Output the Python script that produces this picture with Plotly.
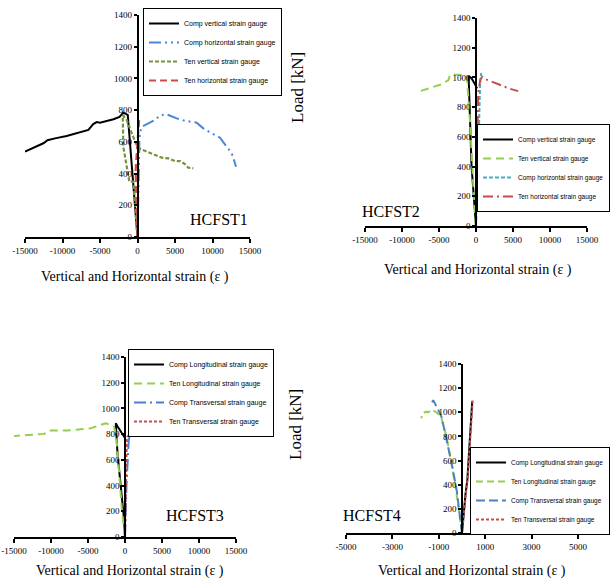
import plotly.graph_objects as go

# ---------------- DATA ----------------
x_title = "Vertical and Horizontal strain (ε )"
y_title = "Load [kN]"
panel_names = ["HCFST1", "HCFST2", "HCFST3", "HCFST4"]

load_ticks = [0, 200, 400, 600, 800, 1000, 1200, 1400]
strain_ticks_wide = [-15000, -10000, -5000, 0, 5000, 10000, 15000]
strain_ticks_narrow = [-5000, -3000, -1000, 1000, 3000, 5000]

# HCFST1
p1_names = ["Comp vertical strain gauge", "Comp horizontal strain gauge",
            "Ten vertical strain gauge", "Ten horizontal strain gauge"]
p1_cv_x = [0, -250, -600, -1300, -1900, -2400, -3200, -4100, -5000, -5450, -5900, -6550, -7450, -7900, -8700, -9450, -11000, -12000, -12550, -13800, -15000]
p1_cv_y = [0, 150, 380, 770, 784, 757, 743, 731, 720, 725, 712, 675, 662, 660, 648, 637, 622, 610, 591, 565, 538]
p1_ch_x = [0, 100, 250, 330, 560, 1440, 2330, 3000, 3890, 5230, 6330, 7890, 8770, 9670, 11000, 11890, 12560, 12870, 13130]
p1_ch_y = [0, 300, 600, 660, 695, 717, 738, 767, 773, 748, 733, 721, 685, 660, 626, 569, 528, 485, 443]
p1_tv_x = [0, -560, -1090, -1890, -1970, -1440, -770, -110, 330, 1230, 2110, 3230, 4110, 5000, 5670, 6330, 6770, 7440]
p1_tv_y = [0, 349, 349, 569, 769, 738, 654, 580, 556, 538, 523, 500, 496, 479, 479, 460, 437, 433]
p1_th_x = [0, -100, -250, -50, 150, 250]
p1_th_y = [0, 200, 420, 560, 660, 760]

# HCFST2
p2_names = ["Comp vertical strain gauge", "Ten vertical strain gauge",
            "Comp horizontal strain gauge", "Ten horizontal strain gauge"]
p2_cv_x = [0, -300, -600, -1000, -600, -150, 150]
p2_cv_y = [0, 180, 400, 1010, 995, 955, 925]
p2_tv_x = [0, -400, -800, -1260, -2500, -3500, -3740, -4870, -6220, -7800]
p2_tv_y = [0, 300, 700, 1015, 1018, 1018, 980, 951, 929, 904]
p2_ch_x = [0, 100, 300, 450, 550, 700, 900]
p2_ch_y = [0, 250, 450, 700, 950, 1030, 1000]
p2_th_x = [0, 150, 300, 600, 800, 1440, 2500, 3500, 4500, 5700]
p2_th_y = [0, 400, 900, 990, 1000, 985, 965, 945, 925, 908]

# HCFST3
p3_names = ["Comp Longitudinal strain gauge", "Ten Longitudinal strain gauge",
            "Comp Transversal strain gauge", "Ten Transversal strain gauge"]
p3_cl_x = [0, -150, -1000, -1250, -1000, -600, -200, 0]
p3_cl_y = [0, 150, 640, 885, 860, 820, 790, 770]
p3_tl_x = [0, -400, -800, -1200, -1500, -2600, -4600, -7800, -10300, -10900, -15000]
p3_tl_y = [0, 200, 500, 800, 860, 885, 846, 828, 828, 802, 786]
p3_ct_x = [0, 200, 500, 800, 1200]
p3_ct_y = [0, 400, 750, 830, 880]
p3_tt_x = [0, 100, 250, 324, 800, 1680, 3240, 4820, 6180, 7080, 9110, 10900, 12930, 13380, 15000]
p3_tt_y = [0, 400, 750, 781, 800, 820, 854, 872, 885, 854, 838, 820, 820, 799, 799]

# HCFST4
p4_names = ["Comp Longitudinal strain gauge", "Ten Longitudinal strain gauge",
            "Comp Transversal strain gauge", "Ten Transversal strain gauge"]
p4_cl_x = [0, 60, 150, 230, 320, 370, 420, 440]
p4_cl_y = [0, 160, 320, 440, 715, 930, 1040, 1090]
p4_tl_x = [0, -250, -450, -660, -900, -1100, -1300, -1450, -1550, -1700, -1760]
p4_tl_y = [0, 350, 570, 790, 960, 1000, 1020, 1000, 1005, 990, 950]
p4_ct_x = [0, -230, -445, -660, -880, -1000, -1100, -1240, -1300]
p4_ct_y = [0, 356, 577, 770, 960, 1010, 1050, 1100, 1080]
p4_tt_x = [0, 70, 170, 250, 340, 390, 430, 460]
p4_tt_y = [0, 160, 330, 460, 730, 950, 1050, 1100]

# ---------------- LAYOUT HELPERS ----------------
W, H = 611, 588
SERIF = "Liberation Serif, Times New Roman, serif"
NARROW = "Liberation Sans Narrow, Arial Narrow, Liberation Sans, Arial, sans-serif"

def fx(px):
    return px / W

def fy(py):
    return 1 - py / H

# pixel boxes: left, right, top(y=1400), bottom(y=0)
boxes = [
    (25, 250, 15, 237),
    (365, 587, 18, 226),
    (14, 236, 357, 537),
    (346, 578, 364, 533),
]
xranges = [[-15000, 15000], [-15000, 15000], [-15000, 15000], [-5000, 5000]]
xticks = [strain_ticks_wide, strain_ticks_wide, strain_ticks_wide, strain_ticks_narrow]

fig = go.Figure()

series = [
    (p1_names, [(p1_cv_x, p1_cv_y), (p1_ch_x, p1_ch_y), (p1_tv_x, p1_tv_y), (p1_th_x, p1_th_y)],
     [("black", "solid", 2), ("#4A86D8", "12px,4px,2px,4px,2px,4px", 2),
      ("#77933C", "4px,2px", 2.2), ("#D04A4A", "7px,4px", 2.2)]),
    (p2_names, [(p2_cv_x, p2_cv_y), (p2_tv_x, p2_tv_y), (p2_ch_x, p2_ch_y), (p2_th_x, p2_th_y)],
     [("black", "solid", 2), ("#92D050", "8px,5px", 2),
      ("#4BACC6", "4px,2px", 2), ("#C0504D", "10px,4px,2px,4px", 2)]),
    (p3_names, [(p3_cl_x, p3_cl_y), (p3_tl_x, p3_tl_y), (p3_ct_x, p3_ct_y), (p3_tt_x, p3_tt_y)],
     [("black", "solid", 2), ("#92D050", "8px,5px", 2),
      ("#4A7FCF", "12px,4px,2px,4px", 2), ("#C0504D", "3px,2px", 2)]),
    (p4_names, [(p4_cl_x, p4_cl_y), (p4_tl_x, p4_tl_y), (p4_ct_x, p4_ct_y), (p4_tt_x, p4_tt_y)],
     [("black", "solid", 2), ("#92D050", "7px,4px", 2),
      ("#4F81BD", "9px,4px", 2), ("#C0504D", "3px,2px", 2)]),
]

# (x px, anchor, y top px, font size)
legend_boxes = [(143, "left", 8, 7), (610, "right", 124, 6.5),
                (128, "left", 349, 7), (610, "right", 447, 6.5)]

for i in range(4):
    n = i + 1
    xa = "x" if n == 1 else f"x{n}"
    ya = "y" if n == 1 else f"y{n}"
    lg = "legend" if n == 1 else f"legend{n}"
    names, data, styles = series[i]
    for (xs, ys), nm, (col, dash, w) in zip(data, names, styles):
        fig.add_trace(go.Scatter(x=xs, y=ys, mode="lines", name=nm,
                                 line=dict(color=col, dash=dash, width=w),
                                 xaxis=xa, yaxis=ya, legend=lg))
    l, r, t, b = boxes[i]
    xr = xranges[i]
    xdom = [fx(l), fx(r)]
    ydom = [fy(b), fy(t)]
    ypos = xdom[0] + (0 - xr[0]) / (xr[1] - xr[0]) * (xdom[1] - xdom[0])
    xkey = "xaxis" if n == 1 else f"xaxis{n}"
    ykey = "yaxis" if n == 1 else f"yaxis{n}"
    fig.update_layout(**{
        xkey: dict(domain=xdom, range=xr, anchor=ya, showgrid=False, zeroline=False,
                   automargin=False,
                   showline=True, linecolor="black", linewidth=2,
                   tickmode="array", tickvals=xticks[i],
                   ticktext=[str(v) for v in xticks[i]], ticks="outside",
                   ticklen=4, tickwidth=1.5, tickcolor="black",
                   tickfont=dict(family=SERIF, size=9, color="black")),
        ykey: dict(domain=ydom, range=[0, 1400], anchor="free", position=ypos,
                   automargin=False,
                   showgrid=False, zeroline=False, showline=True,
                   linecolor="black", linewidth=1.5,
                   tickmode="array", tickvals=load_ticks,
                   ticktext=[str(v) for v in load_ticks], ticks="outside",
                   ticklen=3, tickwidth=1.5, tickcolor="black",
                   tickfont=dict(family=SERIF, size=9, color="black")),
    })
    lx, lanchor, ly, lfs = legend_boxes[i]
    fig.update_layout(**{lg: dict(x=fx(lx), y=fy(ly), xanchor=lanchor, yanchor="top",
                                  bgcolor="white", bordercolor="black", borderwidth=1,
                                  itemwidth=30, font=dict(family=NARROW, size=lfs, color="black"))})

annotations = []
# x titles
for (cx, cy) in [(135, 277), (478, 270), (130, 571), (472, 571)]:
    annotations.append(dict(x=fx(cx), y=fy(cy), xref="paper", yref="paper", text=x_title,
                            xanchor="center", yanchor="middle",
                            showarrow=False, font=dict(family=SERIF, size=14, color="black")))
# Load [kN]
for (cx, cy) in [(298, 88), (295, 425)]:
    annotations.append(dict(x=fx(cx), y=fy(cy), xref="paper", yref="paper", text=y_title,
                            xanchor="center", yanchor="middle",
                            textangle=-90, showarrow=False,
                            font=dict(family=SERIF, size=17, color="black")))
# panel names
for nm, (cx, cy) in zip(panel_names, [(219, 219), (391, 211), (195, 515), (372, 515)]):
    annotations.append(dict(x=fx(cx), y=fy(cy), xref="paper", yref="paper", text=nm,
                            xanchor="center", yanchor="middle",
                            showarrow=False, font=dict(family=SERIF, size=16, color="black")))

fig.update_layout(width=W, height=H, margin=dict(l=0, r=0, t=0, b=0, autoexpand=False),
                  paper_bgcolor="white", plot_bgcolor="white",
                  annotations=annotations, showlegend=True)

fig.write_html("out.html")
